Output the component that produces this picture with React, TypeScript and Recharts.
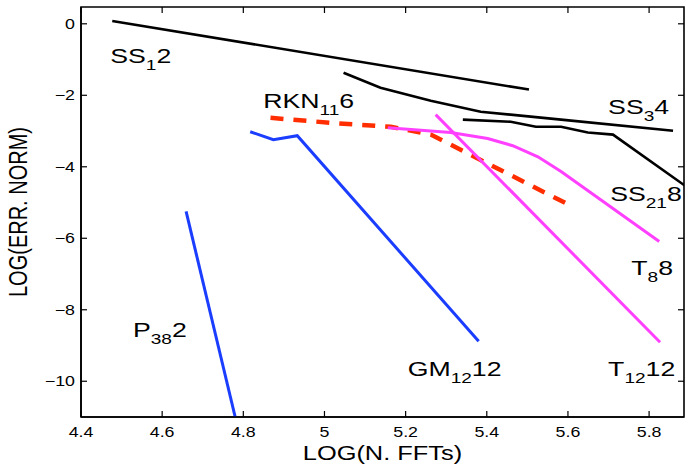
import React from "react";
import { LineChart, Line, XAxis, YAxis, ReferenceDot, ReferenceArea } from "recharts";

// series values (log10 of FFT count vs log10 of error norm)
const ss12X = [4.477, 5.504];
const ss12Y = [0.08, -1.84];
const ss34X = [5.047, 5.138, 5.262, 5.385, 5.583, 5.859];
const ss34Y = [-1.37, -1.79, -2.15, -2.46, -2.68, -2.99];
const ss218X = [5.341, 5.459, 5.521, 5.583, 5.649, 5.711, 5.891];
const ss218Y = [-2.68, -2.74, -2.88, -2.88, -3.04, -3.1, -4.55];
const rkn116X = [4.867, 5.015, 5.163, 5.262, 5.602];
const rkn116Y = [-2.63, -2.77, -2.88, -3.1, -5.06];
const gm1212X = [4.817, 4.874, 4.933, 5.38];
const gm1212Y = [-3.02, -3.24, -3.13, -8.88];
const p382X = [4.659, 4.78];
const p382Y = [-5.25, -11.0];
const t88X = [5.156, 5.311, 5.402, 5.464, 5.526, 5.583, 5.825];
const t88Y = [-2.91, -3.04, -3.21, -3.41, -3.72, -4.13, -6.09];
const t1212X = [5.274, 5.827];
const t1212Y = [-2.54, -8.91];

// curve labels: name, subscript, suffix and anchor (left, baseline)
const labelMain = ["SS", "RKN", "SS", "SS", "T", "P", "GM", "T"];
const labelSub = ["1", "11", "3", "21", "8", "38", "12", "12"];
const labelTail = ["2", "6", "4", "8", "8", "2", "12", "12"];
const labelX = [4.472, 4.849, 5.699, 5.704, 5.756, 4.528, 5.205, 5.699];
const labelY = [-1.09, -2.35, -2.51, -4.97, -7.04, -8.77, -9.86, -9.86];

const xTicks = [4.4, 4.6, 4.8, 5, 5.2, 5.4, 5.6, 5.8];
const yTicks = [0, -2, -4, -6, -8, -10];
const xDomain = [4.4, 5.886];
const yDomain = [-11, 0.47];

const FONT = "'Liberation Sans', Arial, Helvetica, sans-serif";
const STRETCH = 1.27;
const PLOT_TOP = 7;
const PLOT_RIGHT = 684;

const zip = (xs: number[], ys: number[]) => xs.map((x, i) => ({ x, y: ys[i] }));

// bottom tick: inward mark on bottom and top frame edges plus the label
const BottomTick = ({ x, y, payload }: any) => (
  <g>
    <line x1={x} x2={x} y1={y} y2={y - 6} stroke="#000" strokeWidth={1.2} />
    <line x1={x} x2={x} y1={PLOT_TOP} y2={PLOT_TOP + 6} stroke="#000" strokeWidth={1.2} />
    <text
      transform={`translate(${x},${y + 20}) scale(${STRETCH},1)`}
      textAnchor="middle"
      fontSize={14}
      fontFamily={FONT}
      fill="#000"
    >
      {String(payload.value)}
    </text>
  </g>
);

// left tick: inward mark on left and right frame edges plus the label
const LeftTick = ({ x, y, payload }: any) => (
  <g>
    <line x1={x} x2={x + 6} y1={y} y2={y} stroke="#000" strokeWidth={1.2} />
    <line x1={PLOT_RIGHT} x2={PLOT_RIGHT - 6} y1={y} y2={y} stroke="#000" strokeWidth={1.2} />
    <text
      transform={`translate(${x - 6},${y + 5}) scale(${STRETCH},1)`}
      textAnchor="end"
      fontSize={14}
      fontFamily={FONT}
      fill="#000"
    >
      {payload.value < 0 ? `\u2212${Math.abs(payload.value)}` : String(payload.value)}
    </text>
  </g>
);

const CurveLabel = ({ viewBox, main, sub, tail }: any) => {
  if (!viewBox) return null;
  return (
    <text
      transform={`translate(${viewBox.x},${viewBox.y}) scale(${STRETCH},1)`}
      fontSize={21}
      fontFamily={FONT}
      fill="#000"
    >
      <tspan>{main}</tspan>
      <tspan dy={7} fontSize={15}>{sub}</tspan>
      <tspan dy={-7}>{tail}</tspan>
    </text>
  );
};

const XTitle = ({ viewBox }: any) => (
  <text
    transform={`translate(${viewBox.x + viewBox.width / 2},${viewBox.y + 43}) scale(${STRETCH},1)`}
    textAnchor="middle"
    fontSize={20}
    fontFamily={FONT}
    fill="#000"
  >
    LOG(N. FFTs)
  </text>
);

const YTitle = ({ viewBox }: any) => (
  <text
    transform={`translate(27,${viewBox.y + viewBox.height / 2}) rotate(-90) scale(1,${STRETCH})`}
    textAnchor="middle"
    fontSize={20}
    fontFamily={FONT}
    fill="#000"
  >
    LOG(ERR. NORM)
  </text>
);

export default function App() {
  return (
    <div style={{ position: "absolute", left: 0, top: 0, width: 685, height: 467, background: "#fff" }}>
      <LineChart width={685} height={467} margin={{ top: PLOT_TOP, right: 685 - PLOT_RIGHT, bottom: 0, left: 0 }}>
        <XAxis
          dataKey="x"
          type="number"
          domain={xDomain}
          ticks={xTicks}
          allowDataOverflow
          height={50}
          tickSize={0}
          tickMargin={0}
          tickLine={false}
          tick={<BottomTick />}
          stroke="#000"
          axisLine={{ stroke: "#000", strokeWidth: 1.6 }}
          label={<XTitle />}
        />
        <YAxis
          type="number"
          domain={yDomain}
          ticks={yTicks}
          allowDataOverflow
          width={81}
          tickSize={0}
          tickMargin={0}
          tickLine={false}
          tick={<LeftTick />}
          stroke="#000"
          axisLine={{ stroke: "#000", strokeWidth: 1.6 }}
          label={<YTitle />}
        />
        <ReferenceArea
          x1={xDomain[0]}
          x2={xDomain[1]}
          y1={yDomain[0]}
          y2={yDomain[1]}
          fill="none"
          fillOpacity={0}
          stroke="#000"
          strokeWidth={1.6}
          strokeOpacity={1}
        />
        <Line data={zip(ss12X, ss12Y)} dataKey="y" stroke="#000" strokeWidth={2.6} dot={false} isAnimationActive={false} />
        <Line data={zip(ss34X, ss34Y)} dataKey="y" stroke="#000" strokeWidth={2.6} dot={false} isAnimationActive={false} />
        <Line data={zip(ss218X, ss218Y)} dataKey="y" stroke="#000" strokeWidth={2.6} dot={false} isAnimationActive={false} />
        <Line data={zip(gm1212X, gm1212Y)} dataKey="y" stroke="#1a3dff" strokeWidth={3} dot={false} isAnimationActive={false} />
        <Line data={zip(p382X, p382Y)} dataKey="y" stroke="#1a3dff" strokeWidth={3} dot={false} isAnimationActive={false} />
        <Line data={zip(rkn116X, rkn116Y)} dataKey="y" stroke="#ff2d00" strokeWidth={4.5} strokeDasharray="13 10" dot={false} isAnimationActive={false} />
        <Line data={zip(t88X, t88Y)} dataKey="y" stroke="#ff40ff" strokeWidth={3} dot={false} isAnimationActive={false} />
        <Line data={zip(t1212X, t1212Y)} dataKey="y" stroke="#ff40ff" strokeWidth={3} dot={false} isAnimationActive={false} />
        {labelMain.map((m, i) => (
          <ReferenceDot
            key={`lbl-${i}`}
            x={labelX[i]}
            y={labelY[i]}
            r={0}
            fill="none"
            stroke="none"
            label={<CurveLabel main={m} sub={labelSub[i]} tail={labelTail[i]} />}
          />
        ))}
      </LineChart>
    </div>
  );
}
